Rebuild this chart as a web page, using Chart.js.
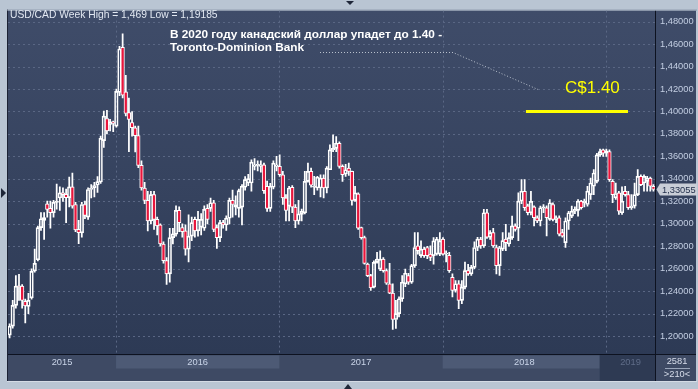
<!DOCTYPE html>
<html><head><meta charset="utf-8">
<script src="https://cdn.jsdelivr.net/npm/chart.js@4.4.0/dist/chart.umd.min.js"></script>
<style>html,body{margin:0;padding:0;background:#b9c5d3;overflow:hidden}canvas{display:block}</style>
</head><body><canvas id="c" width="698" height="389"></canvas>
<script>
// Weekly USD/CAD candles
const open = [1.2009,1.2089,1.2274,1.2445,1.2445,1.2310,1.2265,1.2340,1.2580,1.2680,1.2966,1.3030,1.3178,1.3137,1.3100,1.3190,1.3230,1.3275,1.3262,1.3233,1.3328,1.3172,1.2950,1.2919,1.3172,1.3060,1.3305,1.3319,1.3345,1.3372,1.3740,1.3937,1.3885,1.3908,1.3870,1.4170,1.4571,1.4175,1.3990,1.3900,1.3855,1.3785,1.3520,1.3319,1.3208,1.3025,1.3260,1.3040,1.2990,1.2820,1.2672,1.2554,1.2877,1.2907,1.3119,1.2966,1.2937,1.2775,1.2890,1.3040,1.2937,1.2970,1.2960,1.3137,1.3137,1.3187,1.2966,1.2877,1.3010,1.2989,1.3049,1.3208,1.3149,1.3137,1.3149,1.3325,1.3363,1.3363,1.3511,1.3520,1.3511,1.3525,1.3334,1.3137,1.3325,1.3511,1.3511,1.3437,1.3231,1.3157,1.3325,1.3149,1.3025,1.3084,1.3098,1.3378,1.3467,1.3325,1.3319,1.3319,1.3407,1.3319,1.3481,1.3658,1.3672,1.3717,1.3511,1.3443,1.3496,1.3467,1.3208,1.3266,1.2966,1.2877,1.2642,1.2539,1.2436,1.2657,1.2598,1.2686,1.2583,1.2466,1.2383,1.2148,1.2201,1.2333,1.2466,1.2539,1.2480,1.2627,1.2804,1.2716,1.2775,1.2789,1.2730,1.2716,1.2730,1.2730,1.2863,1.2730,1.2720,1.2524,1.2407,1.2466,1.2318,1.2436,1.2583,1.2554,1.2612,1.2789,1.2863,1.2804,1.3098,1.2880,1.2922,1.2789,1.2627,1.2775,1.2863,1.2820,1.2877,1.2981,1.2960,1.3202,1.3290,1.3160,1.3098,1.3150,1.3054,1.3025,1.3143,1.3143,1.3040,1.3172,1.3040,1.3054,1.2922,1.2833,1.3025,1.3069,1.3113,1.3120,1.3202,1.3187,1.3172,1.3260,1.3334,1.3378,1.3614,1.3658,1.3628,1.3643,1.3378,1.3231,1.3275,1.3098,1.3290,1.3260,1.3143,1.3157,1.3260,1.3422,1.3363,1.3378,1.3407,1.3334];
const high = [1.2110,1.2318,1.2539,1.2550,1.2460,1.2330,1.2380,1.2600,1.2774,1.2980,1.3100,1.3100,1.3202,1.3202,1.3210,1.3354,1.3328,1.3320,1.3310,1.3416,1.3451,1.3190,1.3030,1.3190,1.3202,1.3320,1.3350,1.3370,1.3420,1.3780,1.4003,1.4010,1.3930,1.3915,1.4200,1.4580,1.4690,1.4321,1.4119,1.4000,1.3870,1.3870,1.3560,1.3370,1.3290,1.3290,1.3290,1.3060,1.3000,1.2840,1.2700,1.2960,1.2960,1.3160,1.3150,1.3000,1.2990,1.3080,1.3060,1.3060,1.3110,1.3090,1.3160,1.3170,1.3230,1.3210,1.2990,1.3030,1.3030,1.3070,1.3230,1.3300,1.3250,1.3310,1.3350,1.3420,1.3440,1.3570,1.3580,1.3560,1.3560,1.3540,1.3380,1.3360,1.3560,1.3600,1.3614,1.3467,1.3260,1.3334,1.3340,1.3172,1.3208,1.3130,1.3467,1.3540,1.3496,1.3422,1.3422,1.3437,1.3437,1.3510,1.3702,1.3793,1.3776,1.3730,1.3525,1.3530,1.3540,1.3470,1.3334,1.3275,1.2970,1.2890,1.2650,1.2550,1.2670,1.2745,1.2760,1.2700,1.2600,1.2648,1.2466,1.2318,1.2350,1.2540,1.2598,1.2560,1.2640,1.2922,1.2922,1.2848,1.2790,1.2800,1.2804,1.2877,1.2880,1.2922,1.2877,1.2760,1.2745,1.2554,1.2495,1.2495,1.2495,1.2660,1.2640,1.2630,1.2840,1.2880,1.2880,1.3128,1.3128,1.2940,1.2960,1.2810,1.2800,1.2922,1.2996,1.2920,1.3069,1.3000,1.3275,1.3393,1.3393,1.3175,1.3290,1.3160,1.3070,1.3157,1.3170,1.3160,1.3216,1.3187,1.3070,1.3070,1.2950,1.3054,1.3110,1.3157,1.3150,1.3216,1.3210,1.3220,1.3334,1.3407,1.3482,1.3628,1.3665,1.3665,1.3665,1.3658,1.3393,1.3363,1.3290,1.3330,1.3334,1.3290,1.3260,1.3363,1.3482,1.3437,1.3437,1.3422,1.3415,1.3349];
const low = [1.1985,1.2070,1.2250,1.2318,1.2250,1.2118,1.2200,1.2330,1.2570,1.2670,1.2940,1.2860,1.3060,1.2960,1.3060,1.3130,1.3120,1.3200,1.3010,1.3150,1.3140,1.2930,1.2824,1.2880,1.3045,1.3040,1.3230,1.3240,1.3280,1.3360,1.3679,1.3800,1.3826,1.3820,1.3860,1.4140,1.4120,1.3960,1.3643,1.3780,1.3640,1.3500,1.3300,1.3180,1.2937,1.3000,1.2950,1.2900,1.2800,1.2650,1.2460,1.2480,1.2820,1.2890,1.2930,1.2880,1.2720,1.2660,1.2850,1.2880,1.2890,1.2900,1.2940,1.3000,1.3110,1.2930,1.2780,1.2840,1.2960,1.2940,1.3000,1.3060,1.3080,1.3060,1.2990,1.3300,1.3340,1.3290,1.3480,1.3470,1.3460,1.3270,1.3110,1.3110,1.3310,1.3470,1.3422,1.3172,1.3025,1.3025,1.3100,1.2966,1.2996,1.3025,1.3089,1.3370,1.3325,1.3260,1.3300,1.3240,1.3231,1.3275,1.3481,1.3643,1.3643,1.3496,1.3378,1.3422,1.3430,1.3166,1.3200,1.2951,1.2863,1.2640,1.2530,1.2407,1.2430,1.2650,1.2583,1.2570,1.2460,1.2377,1.2060,1.2068,1.2171,1.2310,1.2440,1.2460,1.2470,1.2612,1.2730,1.2701,1.2700,1.2690,1.2672,1.2640,1.2720,1.2716,1.2720,1.2660,1.2568,1.2348,1.2392,1.2245,1.2290,1.2420,1.2540,1.2540,1.2600,1.2760,1.2780,1.2790,1.2870,1.2860,1.2790,1.2554,1.2540,1.2760,1.2760,1.2800,1.2860,1.2935,1.2850,1.3180,1.3120,1.3080,1.3080,1.2981,1.3010,1.2981,1.3100,1.2893,1.3030,1.3025,1.3010,1.2893,1.2880,1.2789,1.2950,1.3054,1.3090,1.3069,1.3130,1.3150,1.3157,1.3216,1.3260,1.3363,1.3600,1.3600,1.3600,1.3378,1.3187,1.3216,1.3084,1.3084,1.3245,1.3128,1.3128,1.3140,1.3250,1.3340,1.3290,1.3290,1.3290,1.3290];
const close = [1.2089,1.2274,1.2445,1.2440,1.2318,1.2270,1.2318,1.2577,1.2648,1.2966,1.3045,1.3055,1.3128,1.3100,1.3190,1.3200,1.3275,1.3260,1.3233,1.3328,1.3157,1.2945,1.2922,1.3172,1.3075,1.3305,1.3319,1.3340,1.3375,1.3761,1.3959,1.3826,1.3908,1.3893,1.4179,1.4556,1.4144,1.3982,1.3929,1.3855,1.3785,1.3520,1.3319,1.3208,1.3025,1.3260,1.3040,1.2981,1.2820,1.2672,1.2554,1.2877,1.2910,1.3119,1.3010,1.2930,1.2775,1.2890,1.3010,1.2937,1.3040,1.3040,1.3128,1.3040,1.3187,1.2951,1.2877,1.3010,1.2989,1.3049,1.3208,1.3172,1.3172,1.3296,1.3334,1.3393,1.3402,1.3549,1.3525,1.3530,1.3525,1.3296,1.3137,1.3334,1.3540,1.3525,1.3437,1.3231,1.3119,1.3319,1.3149,1.3025,1.3089,1.3110,1.3378,1.3467,1.3343,1.3334,1.3414,1.3407,1.3319,1.3496,1.3658,1.3672,1.3717,1.3511,1.3437,1.3481,1.3467,1.3208,1.3275,1.2960,1.2877,1.2648,1.2539,1.2430,1.2657,1.2686,1.2686,1.2583,1.2471,1.2383,1.2148,1.2201,1.2333,1.2480,1.2560,1.2480,1.2627,1.2789,1.2760,1.2775,1.2716,1.2716,1.2701,1.2848,1.2863,1.2848,1.2730,1.2740,1.2583,1.2407,1.2466,1.2318,1.2436,1.2583,1.2554,1.2612,1.2789,1.2863,1.2804,1.3098,1.2880,1.2922,1.2804,1.2627,1.2789,1.2850,1.2833,1.2877,1.2981,1.2951,1.3202,1.3290,1.3143,1.3098,1.3200,1.3054,1.3025,1.3143,1.3150,1.3054,1.3187,1.3040,1.3054,1.2907,1.2890,1.3025,1.3098,1.3113,1.3128,1.3202,1.3143,1.3202,1.3290,1.3363,1.3452,1.3614,1.3643,1.3628,1.3650,1.3393,1.3260,1.3270,1.3113,1.3202,1.3260,1.3143,1.3157,1.3260,1.3422,1.3349,1.3422,1.3407,1.3334,1.3305];

const weeks = close.map((_, i) => i);
const yTicks = [1.20,1.22,1.24,1.26,1.28,1.30,1.32,1.34,1.36,1.38,1.40,1.42,1.44,1.46,1.48];
const yMin = 1.1841, yMax = 1.4898;
const yearBreaks = [33.9, 85.9, 137.9, 189.9];       // week index where each new year starts
const yearLabels = ['2015', '2016', '2017', '2018', '2019'];
const currentBoxStart = 187.9;
const lastPrice = 1.33055;
const target = 1.40, targetFrom = 164.4, targetTo = 196.9;
const headerText = 'USD/CAD Week High = 1,469 Low = 1,19185';
const titleLines = ['В 2020 году канадский доллар упадет до 1.40 -', 'Toronto-Dominion Bank'];
const targetLabel = 'C$1.40';
const barsCount = '2581', visibleCount = '>210<';

const N = close.length;
const bodies = open.map((o, i) => [o, close[i]]);
const upperWick = open.map((o, i) => [Math.max(o, close[i]), high[i]]);
const lowerWick = open.map((o, i) => [low[i], Math.min(o, close[i])]);
const bodyFill = open.map((o, i) => close[i] < o ? '#e8163c' : 'rgba(0,0,0,0)');

const FONT = '"Liberation Sans", Arial, sans-serif';

const deco = {
  id: 'deco',
  beforeDraw(chart) {
    const {ctx, chartArea: a, scales: {x, y}} = chart;
    const px = v => x.getPixelForDecimal((v + 0.5) / N);
    ctx.save();
    ctx.fillStyle = '#b9c5d3';
    ctx.fillRect(0, 0, chart.width, chart.height);
    const g = ctx.createLinearGradient(0, a.top, 0, a.bottom);
    g.addColorStop(0, '#3f4c69');
    g.addColorStop(1, '#2d3a55');
    ctx.fillStyle = g;
    ctx.fillRect(a.left, a.top, 696 - a.left, a.bottom - a.top);
    // time strip
    ctx.fillStyle = '#3e4a64';
    ctx.fillRect(a.left, a.bottom, 696 - a.left, 381 - a.bottom);
    ctx.fillStyle = '#4d5a75';
    ctx.fillRect(px(yearBreaks[0]), a.bottom + 1.5, px(yearBreaks[1]) - px(yearBreaks[0]), 13);
    ctx.fillRect(px(yearBreaks[2]), a.bottom + 1.5, px(currentBoxStart) - px(yearBreaks[2]), 13);
    ctx.fillStyle = '#2e3a53';
    ctx.fillRect(px(currentBoxStart), a.bottom, a.right - px(currentBoxStart), 381 - a.bottom);
    // grid
    ctx.strokeStyle = '#5a6784';
    ctx.lineWidth = 1;
    ctx.setLineDash([2, 3]);
    yTicks.forEach(v => {
      const yy = Math.round(y.getPixelForValue(v)) + 0.5;
      ctx.beginPath(); ctx.moveTo(a.left, yy); ctx.lineTo(a.right, yy); ctx.stroke();
    });
    yearBreaks.forEach(v => {
      const xx = Math.round(px(v)) + 0.5;
      ctx.beginPath(); ctx.moveTo(xx, a.top); ctx.lineTo(xx, a.bottom); ctx.stroke();
    });
    ctx.restore();
  },
  afterDraw(chart) {
    const {ctx, chartArea: a, scales: {x, y}} = chart;
    const px = v => x.getPixelForDecimal((v + 0.5) / N);
    ctx.save();
    // frame lines
    ctx.strokeStyle = '#0d1220';
    ctx.lineWidth = 1;
    ctx.beginPath(); ctx.moveTo(a.right + 0.5, a.top); ctx.lineTo(a.right + 0.5, 381); ctx.stroke();
    ctx.beginPath(); ctx.moveTo(a.left, a.bottom + 0.5); ctx.lineTo(696, a.bottom + 0.5); ctx.stroke();
    ctx.strokeStyle = '#1c2234';
    ctx.beginPath(); ctx.moveTo(a.left - 0.5, a.top - 1); ctx.lineTo(a.left - 0.5, 381); ctx.stroke();
    ctx.strokeStyle = '#8e9aac';
    ctx.beginPath(); ctx.moveTo(a.left - 1, a.top - 0.5); ctx.lineTo(697, a.top - 0.5); ctx.stroke();
    ctx.strokeStyle = '#d4dbe5';
    ctx.beginPath(); ctx.moveTo(a.left - 1, 381.5); ctx.lineTo(697, 381.5); ctx.stroke();

    // time labels
    ctx.font = '9.3px ' + FONT;
    ctx.textAlign = 'center';
    ctx.textBaseline = 'middle';
    const edges = [-0.5, ...yearBreaks, N - 0.5];
    yearLabels.forEach((lab, i) => {
      const cx = (px(edges[i]) + px(edges[i + 1])) / 2;
      ctx.fillStyle = i === yearLabels.length - 1 ? '#5f6c88' : '#c9d4e8';
      ctx.fillText(lab, cx, a.bottom + 8);
    });
    // bottom-right box
    ctx.fillStyle = '#d6dcea';
    ctx.fillText(barsCount, 677, 361.5);
    ctx.fillText(visibleCount, 677, 374.5);
    ctx.strokeStyle = '#9aa5ba';
    ctx.beginPath(); ctx.moveTo(665, 368.5); ctx.lineTo(690, 368.5); ctx.stroke();

    // header text
    ctx.textAlign = 'left';
    ctx.fillStyle = '#e2e8f2';
    ctx.font = '10.3px ' + FONT;
    ctx.fillText(headerText, 10, 15);
    ctx.fillStyle = '#ffffff';
    ctx.font = 'bold 11.8px ' + FONT;
    ctx.fillText(titleLines[0], 170, 34.5);
    ctx.fillText(titleLines[1], 170, 47.5);
    // leader line
    ctx.strokeStyle = '#b8c0cc';
    ctx.setLineDash([1, 2]);
    ctx.beginPath(); ctx.moveTo(320, 52.5); ctx.lineTo(453, 52.5); ctx.lineTo(538, 89.5); ctx.stroke();
    ctx.setLineDash([]);
    // target
    const ty = y.getPixelForValue(target);
    ctx.strokeStyle = '#ffff00';
    ctx.lineWidth = 3;
    ctx.beginPath(); ctx.moveTo(px(targetFrom), ty); ctx.lineTo(px(targetTo), ty); ctx.stroke();
    ctx.fillStyle = '#ffff00';
    ctx.font = '17px ' + FONT;
    ctx.fillText(targetLabel, 565, 88);

    // last price marker
    const ly = Math.round(y.getPixelForValue(lastPrice)) + 0.5;
    ctx.fillStyle = '#c9ced7';
    ctx.beginPath();
    ctx.moveTo(a.right + 1.5, ly);
    ctx.lineTo(a.right + 5, ly - 6);
    ctx.lineTo(697, ly - 6);
    ctx.lineTo(697, ly + 6);
    ctx.lineTo(a.right + 5, ly + 6);
    ctx.closePath();
    ctx.fill();
    ctx.fillStyle = '#1f2c48';
    ctx.font = '9.3px ' + FONT;
    ctx.fillText(lastPrice.toFixed(5).replace('.', ','), a.right + 7, ly + 0.5);

    // small triangles on the frame
    ctx.fillStyle = '#1e2638';
    ctx.beginPath(); ctx.moveTo(1, 188); ctx.lineTo(6, 193); ctx.lineTo(1, 198); ctx.fill();
    ctx.beginPath(); ctx.moveTo(346, 1); ctx.lineTo(354, 1); ctx.lineTo(350, 5); ctx.fill();
    ctx.beginPath(); ctx.moveTo(344, 389); ctx.lineTo(352, 389); ctx.lineTo(348, 384); ctx.fill();
    ctx.restore();
  }
};

new Chart(document.getElementById('c'), {
  type: 'bar',
  data: {
    labels: weeks,
    datasets: [
      {data: lowerWick, backgroundColor: '#ffffff', borderWidth: 0, barThickness: 1.1, grouped: false},
      {data: upperWick, backgroundColor: '#ffffff', borderWidth: 0, barThickness: 1.1, grouped: false},
      {data: bodies, backgroundColor: bodyFill, borderColor: '#ffffff', borderWidth: 1,
       borderSkipped: false, barThickness: 3.6, minBarLength: 1, grouped: false}
    ]
  },
  options: {
    responsive: false,
    animation: false,
    devicePixelRatio: 1,
    layout: {padding: {left: 8, top: 8, right: 0, bottom: 35}},
    plugins: {legend: {display: false}, tooltip: {enabled: false}},
    scales: {
      x: {type: 'category', display: false, offset: true},
      y: {
        position: 'right', min: yMin, max: yMax,
        grid: {display: false, drawTicks: false},
        border: {display: false},
        afterBuildTicks: s => { s.ticks = yTicks.map(v => ({value: v})); },
        afterFit: s => { s.width = 43; },
        ticks: {
          padding: 5, color: '#c3cee2', autoSkip: false,
          font: {family: 'Liberation Sans', size: 9.3},
          callback: v => Number(v).toFixed(5).replace('.', ',')
        }
      }
    }
  },
  plugins: [deco]
});
</script>
</body></html>
